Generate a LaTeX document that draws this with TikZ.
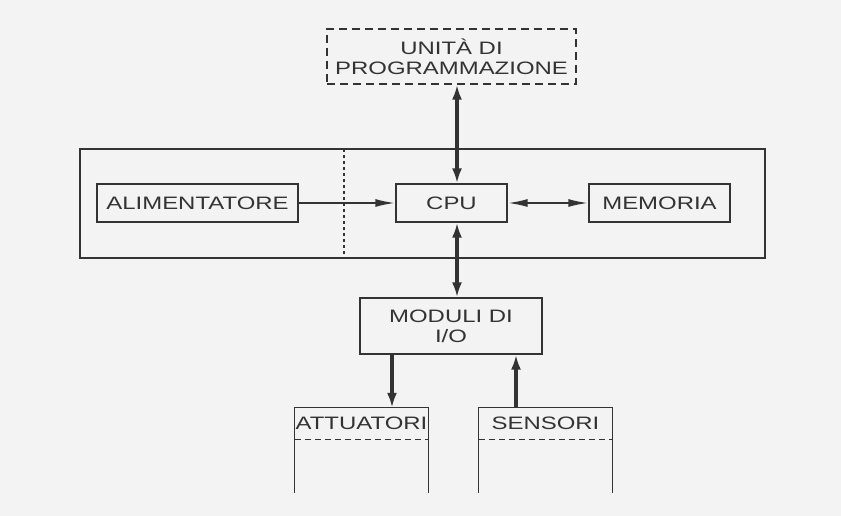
\documentclass[tikz,border=0pt]{standalone}
\usepackage{fontspec}
\setmainfont{Liberation Sans}[FakeStretch=1.33]
\usetikzlibrary{arrows.meta,calc}
\definecolor{paper}{HTML}{F3F3F3}
\definecolor{ink}{HTML}{333333}
\begin{document}
\begin{tikzpicture}[x=1pt,y=-1pt,
  box/.style={draw=ink,line width=1.3pt,inner sep=0pt,align=center,
    font=\fontsize{18}{20}\selectfont,text=ink},
  plain/.style={inner sep=0pt,align=center,font=\fontsize{18}{20}\selectfont,text=ink},
  thick arr/.style={ink,line width=4pt,{Latex[length=15pt,width=10pt]}-{Latex[length=15pt,width=10pt]}},
  thick one/.style={ink,line width=4pt,-{Latex[length=15pt,width=10pt]}},
  thin one/.style={ink,line width=2pt,-{Latex[length=20pt,width=8pt]}},
  thin arr/.style={ink,line width=2pt,{Latex[length=20pt,width=8pt]}-{Latex[length=20pt,width=8pt]}}]
\fill[paper] (0,0) rectangle (841,516);
\useasboundingbox (0,0) rectangle (841,516);

% outer frame
\node[draw=ink,line width=1.2pt,inner sep=0pt,minimum width=685pt,minimum height=109pt] (frame) at (422.5,203.5) {};
\coordinate (dtop) at (344,149);
\coordinate (dbot) at (344,258);
\draw[ink,line width=1.3pt,dash pattern=on 3pt off 3pt] (dtop) -- (dbot);

\node[box,dash pattern=on 8pt off 5pt,minimum width=249pt,minimum height=55pt] (prog) at (451.5,56.5) {UNITÀ DI\\PROGRAMMAZIONE};
\node[box,minimum width=201pt,minimum height=38pt] (alim) at (197.5,203) {ALIMENTATORE};
\node[box,minimum width=111pt,minimum height=38pt] (cpu) at (451.5,203) {CPU};
\node[box,minimum width=141pt,minimum height=38pt] (mem) at (659.5,203) {MEMORIA};
\node[box,minimum width=182pt,minimum height=56pt] (io) at (451,326) {MODULI DI\\I/O};

\node[plain,minimum width=133pt,minimum height=31pt] (att) at (361.5,423.5) {ATTUATORI};
\node[plain,minimum width=133pt,minimum height=31pt] (sen) at (545.5,423.5) {SENSORI};
\foreach \n in {att,sen}{
  \draw[ink,line width=1.3pt] ($(\n.south west)+(0,54)$) -- (\n.north west) -- (\n.north east) -- ($(\n.south east)+(0,54)$);
  \draw[ink,line width=1.1pt,dash pattern=on 6pt off 4pt] (\n.south west) -- (\n.south east);
}

% connectors
\draw[thick arr] ([xshift=5.5pt]prog.south) -- ([xshift=5.5pt]cpu.north);
\draw[thick arr] ([xshift=5.5pt]cpu.south) -- ([xshift=6pt]io.north);
\draw[thin one] (alim.east) -- (cpu.west);
\draw[thin arr] (cpu.east) -- (mem.west);
\draw[thick one] ([xshift=-59pt]io.south) -- ([xshift=30.5pt]att.north);
\draw[thick one] ([xshift=-29.5pt]sen.north) -- ([xshift=65pt]io.south);
\end{tikzpicture}
\end{document}
